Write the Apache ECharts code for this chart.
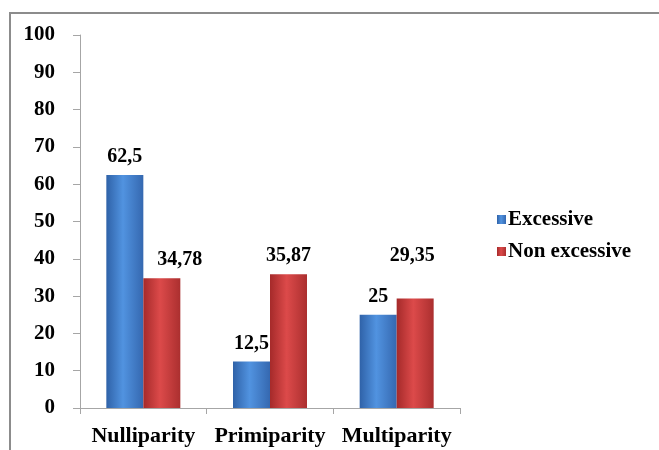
<!DOCTYPE html>
<html>
<head>
<meta charset="utf-8">
<script src="https://cdn.jsdelivr.net/npm/echarts@6/dist/echarts.min.js"></script>
<style>
  html, body { margin: 0; padding: 0; background: #fff; }
  #frame { position: absolute; left: 9px; top: 12px; width: 650px; height: 438px;
           border-left: 2px solid #8c8c8c; border-top: 2px solid #8c8c8c; }
  #chart { position: absolute; left: 0; top: 0; width: 659px; height: 450px; }
</style>
</head>
<body>
<div id="frame"></div>
<div id="chart"></div>
<script>
  const categories = ['Nulliparity', 'Primiparity', 'Multiparity'];
  const excessive = [62.5, 12.5, 25];
  const nonExcessive = [34.78, 35.87, 29.35];
  const seriesNames = ['Excessive', 'Non excessive'];

  const font = 'Liberation Serif';

  function grad(dark, mid, light) {
    return new echarts.graphic.LinearGradient(0, 0, 1, 0, [
      { offset: 0, color: dark },
      { offset: 0.45, color: light },
      { offset: 1, color: mid }
    ]);
  }

  const fmt = function (p) { return String(p.value).replace('.', ','); };

  const labelStyle = {
    show: true,
    position: 'top',
    distance: 8,
    fontFamily: font,
    fontWeight: 'bold',
    fontSize: 20,
    color: '#000',
    formatter: fmt
  };

  // a couple of labels sit off their bars in the original
  const redLabelOffsets = { 0: [18, 0], 2: [-3, -25] };

  const myChart = echarts.init(document.getElementById('chart'));
  const option = {
    animation: false,
    grid: { left: 80, right: 199, top: 35, bottom: 42, containLabel: false },
    legend: {
      orient: 'vertical',
      left: 497,
      top: 209,
      padding: 0,
      itemWidth: 9,
      itemHeight: 9,
      itemGap: 11,
      icon: 'rect',
      textStyle: { fontFamily: font, fontWeight: 'bold', fontSize: 21, color: '#000', padding: [0, 0, 0, -3] },
      data: seriesNames
    },
    xAxis: {
      type: 'category',
      data: categories,
      axisLine: { lineStyle: { color: '#a6a6a6', width: 1 } },
      axisTick: { show: true, length: 6, lineStyle: { color: '#a6a6a6' } },
      axisLabel: { interval: 0, fontFamily: font, fontWeight: 'bold', fontSize: 22, color: '#000', margin: 17 }
    },
    yAxis: {
      type: 'value',
      min: 0,
      max: 100,
      interval: 10,
      axisLine: { show: true, lineStyle: { color: '#a6a6a6', width: 1 } },
      axisTick: { show: true, length: 7, lineStyle: { color: '#a6a6a6' } },
      splitLine: { show: false },
      axisLabel: { fontFamily: font, fontWeight: 'bold', fontSize: 21, color: '#000', margin: 25 }
    },
    series: [
      {
        name: seriesNames[0],
        type: 'bar',
        barWidth: 37,
        barGap: '0%',
        data: excessive,
        itemStyle: { color: grad('#2f62a8', '#3568b0', '#5193e0') },
        label: labelStyle
      },
      {
        name: seriesNames[1],
        type: 'bar',
        barWidth: 37,
        data: nonExcessive.map(function (v, i) {
          const d = { value: v };
          if (redLabelOffsets[i]) d.label = { offset: redLabelOffsets[i] };
          return d;
        }),
        itemStyle: { color: grad('#a52a2a', '#ab2f2f', '#dc4a4a') },
        label: labelStyle
      }
    ]
  };
  myChart.setOption(option);
</script>
</body>
</html>
